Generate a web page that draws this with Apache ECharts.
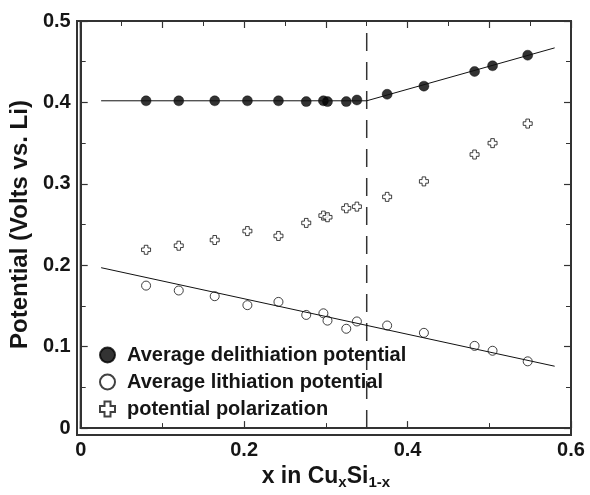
<!DOCTYPE html>
<html><head><meta charset="utf-8">
<script src="https://cdn.jsdelivr.net/npm/echarts@6/dist/echarts.min.js"></script>
<style>
html,body{margin:0;padding:0;background:#fff}
#wrap{position:relative;width:590px;height:495px}
#c{width:590px;height:495px}
#frame{position:absolute;left:76px;top:20px;width:496px;height:416px;box-sizing:border-box;border:2px solid #333;pointer-events:none}
</style>
</head><body><div id="wrap"><div id="c"></div><div id="frame"></div></div>
<script>
// Data
const xComp = [0.080, 0.120, 0.164, 0.204, 0.242, 0.276, 0.297, 0.302, 0.325, 0.338, 0.375, 0.420, 0.482, 0.504, 0.547];
const delith = [0.402, 0.402, 0.402, 0.402, 0.402, 0.401, 0.402, 0.401, 0.401, 0.403, 0.410, 0.420, 0.438, 0.445, 0.458];
const lith = [0.175, 0.169, 0.162, 0.151, 0.155, 0.139, 0.141, 0.132, 0.122, 0.131, 0.126, 0.117, 0.101, 0.095, 0.082];
const polar = [0.219, 0.224, 0.231, 0.242, 0.236, 0.252, 0.261, 0.259, 0.270, 0.272, 0.284, 0.303, 0.336, 0.350, 0.374];
const delithFit = [[0.025, 0.402], [0.35, 0.402], [0.58, 0.467]];
const lithFit = [[0.025, 0.197], [0.58, 0.076]];
const phaseBoundary = [[0.35, 0], [0.35, 0.5]];
const xTicks = [0, 0.2, 0.4, 0.6];
const yTicks = [0, 0.1, 0.2, 0.3, 0.4, 0.5];
const seriesNames = ['Average delithiation potential', 'Average lithiation potential', 'potential polarization'];

const pair = (xs, ys) => xs.map((x, i) => [x, ys[i]]);
const FONT = 'Liberation Sans, Arial, sans-serif';
const INK = '#151515';
const crossPath = 'path://M3,0 H7 V3 H10 V7 H7 V10 H3 V7 H0 V3 H3 Z';

function ax(o) {
  return Object.assign({
    type: 'value', z: 10,
    axisLine: { show: true, onZero: false, lineStyle: { color: '#333', width: 2 } },
    axisTick: { show: true, inside: true, length: 7, lineStyle: { color: '#333', width: 1.2 } },
    minorTick: { show: true, splitNumber: 2, length: 5 },
    splitLine: { show: false }
  }, o);
}

const chart = echarts.init(document.getElementById('c'));
chart.setOption({
  animation: false,
  backgroundColor: '#fff',
  grid: { left: 77, right: 19, top: 21, bottom: 60, show: true, borderColor: '#333', borderWidth: 2, backgroundColor: 'transparent' },
  legend: {
    data: seriesNames,
    orient: 'vertical', left: 94, top: 340,
    itemWidth: 15, itemHeight: 15, itemGap: 7,
    textStyle: { fontFamily: FONT, fontWeight: 700, fontSize: 20, color: INK, padding: [0, 0, 0, 7] }
  },
  xAxis: [ax({
    min: xTicks[0], max: xTicks[xTicks.length - 1], interval: 0.2,
    axisLabel: { fontFamily: FONT, fontWeight: 'bold', fontSize: 20, color: INK, margin: 12 },
    name: '{a|x in Cu}{s|x}{a|Si}{s|1-x}', nameLocation: 'middle', nameGap: 32,
    nameTextStyle: { rich: {
      a: { fontFamily: FONT, fontWeight: 'bold', fontSize: 23, color: INK },
      s: { fontFamily: FONT, fontWeight: 'bold', fontSize: 15, color: INK, padding: [12, 0, 0, 0] }
    } }
  }), ax({
    position: 'top', min: xTicks[0], max: xTicks[xTicks.length - 1], interval: 0.1,
    axisLabel: { show: false }
  })],
  yAxis: [ax({
    min: yTicks[0], max: yTicks[yTicks.length - 1], interval: 0.1,
    axisLabel: { fontFamily: FONT, fontWeight: 'bold', fontSize: 20, color: INK, margin: 10 },
    name: 'Potential (Volts vs. Li)', nameLocation: 'middle', nameGap: 37, nameRotate: 90,
    nameTextStyle: { fontFamily: FONT, fontWeight: 'bold', fontSize: 24, color: INK }
  }), ax({
    position: 'right', min: yTicks[0], max: yTicks[yTicks.length - 1], interval: 0.1,
    axisLabel: { show: false }
  })],
  series: [
    { type: 'line', data: phaseBoundary, xAxisIndex: 1, yAxisIndex: 1, symbol: 'none', silent: true,
      lineStyle: { color: '#333', width: 1.5, type: [18, 11] } },
    { type: 'line', data: delithFit, symbol: 'none', silent: true,
      lineStyle: { color: '#111', width: 1 } },
    { type: 'line', data: lithFit, symbol: 'none', silent: true,
      lineStyle: { color: '#111', width: 1 } },
    { name: seriesNames[0], type: 'scatter', data: pair(xComp, delith), symbol: 'circle', symbolSize: 10,
      itemStyle: { color: '#000', borderColor: '#000', borderWidth: 0.5 } },
    { name: seriesNames[1], type: 'scatter', data: pair(xComp, lith), symbol: 'circle', symbolSize: 9,
      itemStyle: { color: '#fff', borderColor: '#111', borderWidth: 1 } },
    { name: seriesNames[2], type: 'scatter', data: pair(xComp, polar), symbol: crossPath, symbolSize: 9,
      itemStyle: { color: '#fff', borderColor: '#111', borderWidth: 1 } }
  ]
});
</script>
</body></html>
